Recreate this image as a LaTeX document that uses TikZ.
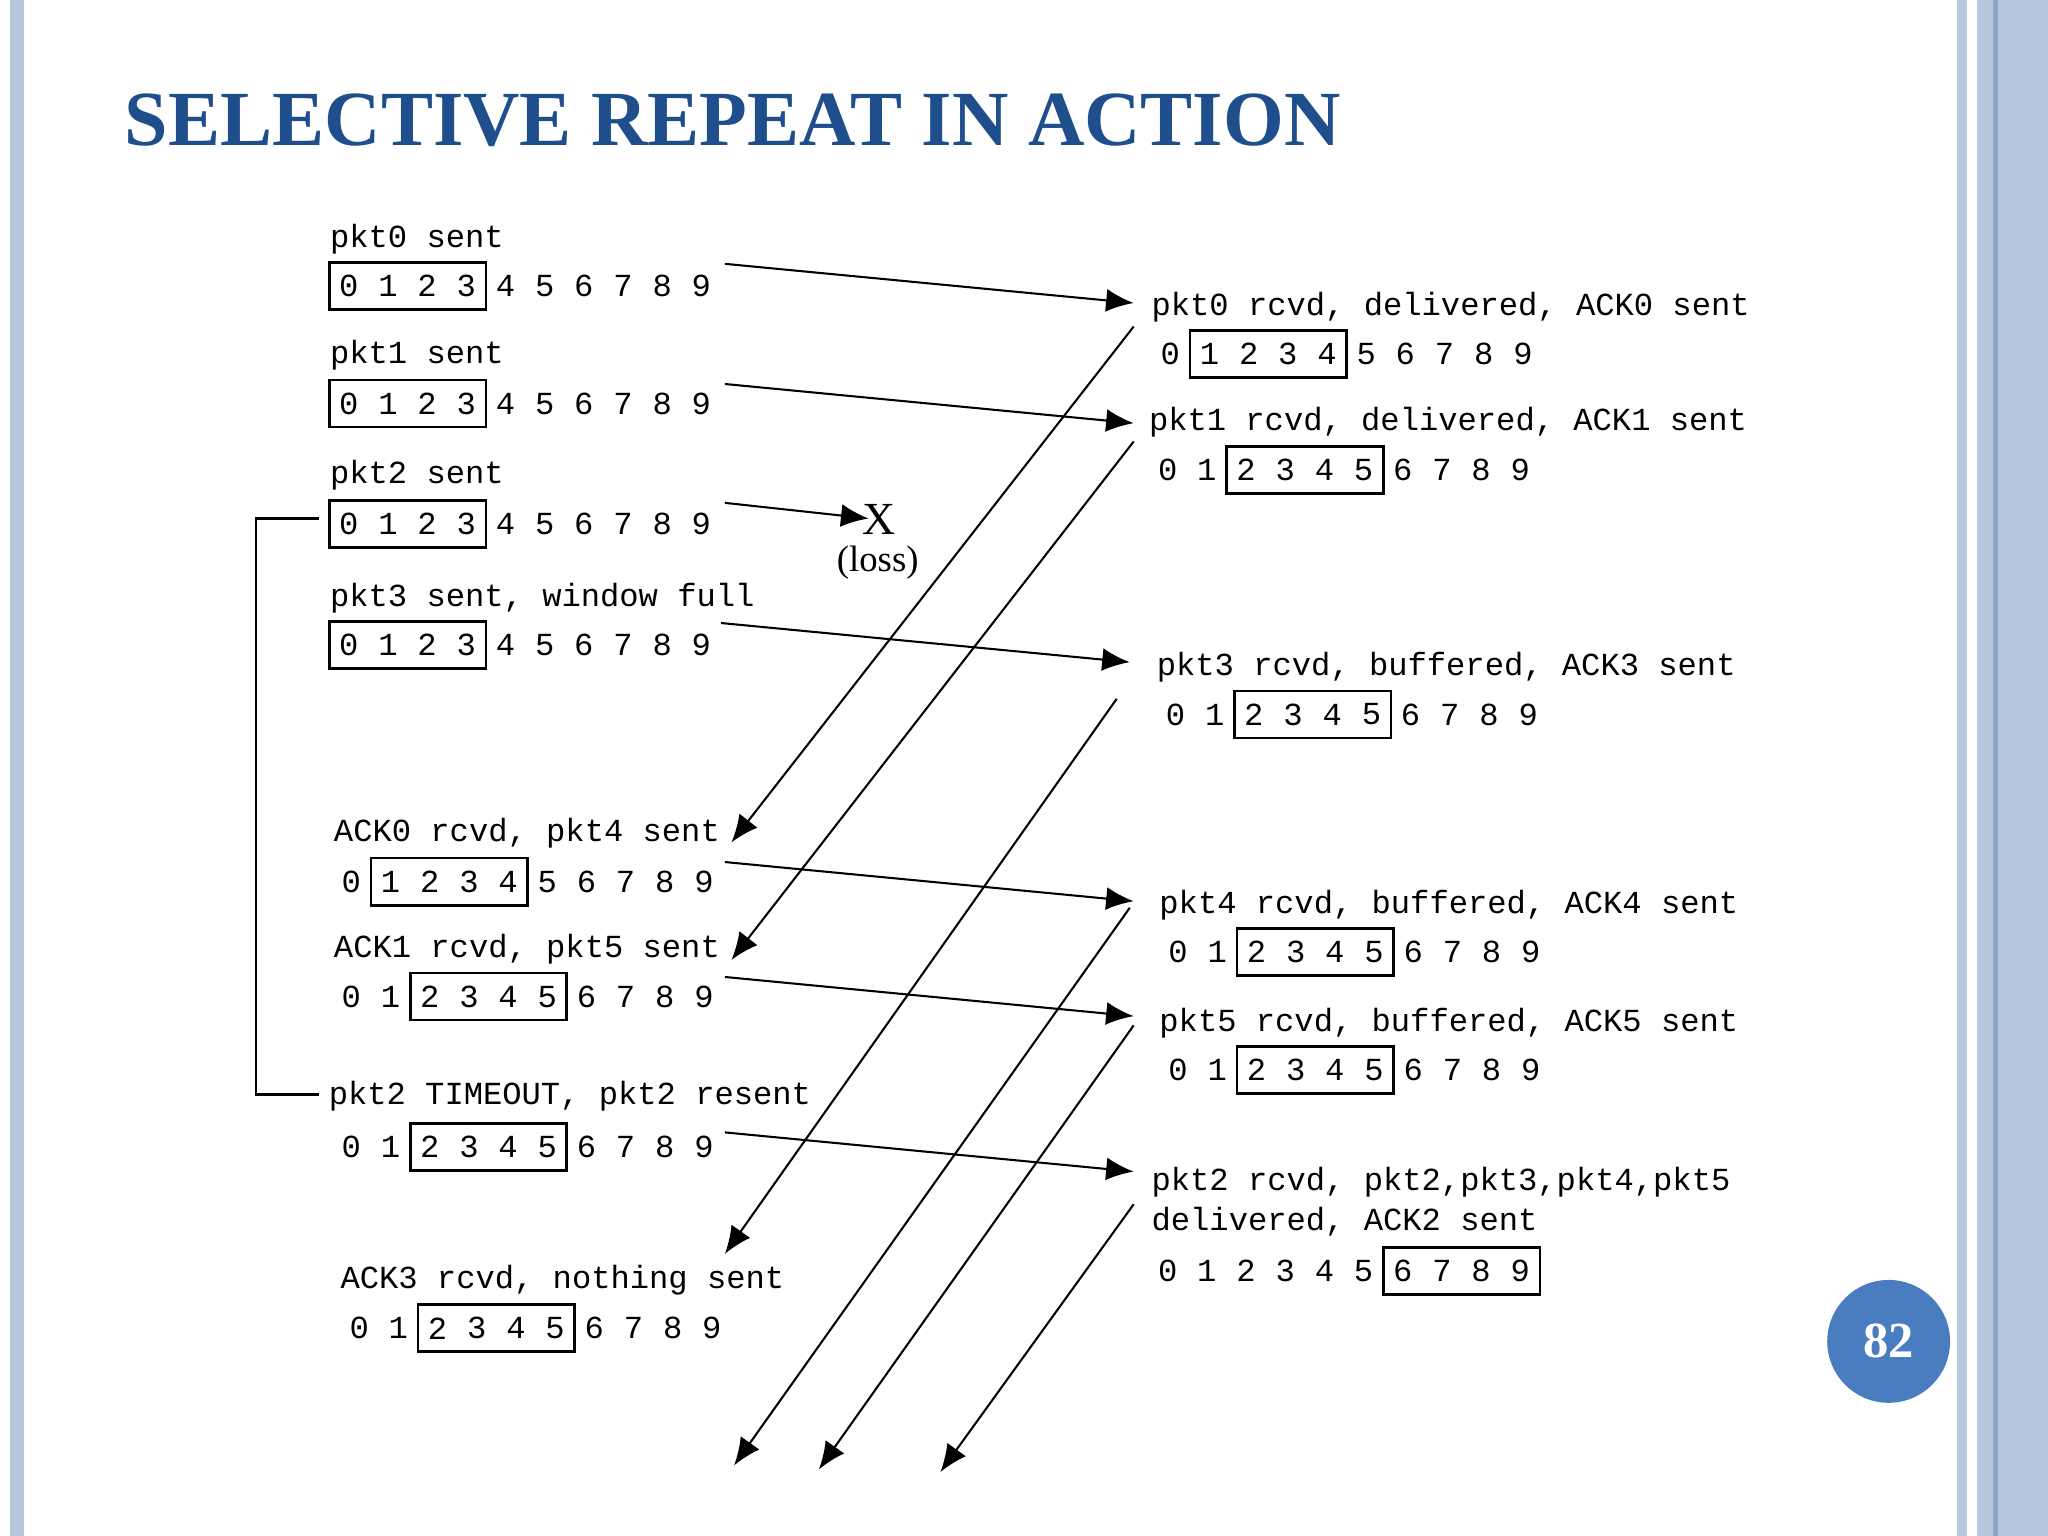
\documentclass[tikz,border=0pt]{standalone}
\usepackage{fontspec}
\setmainfont{Liberation Serif}
\newfontfamily\mono{Liberation Mono}
\usetikzlibrary{arrows.meta}
\definecolor{ttl}{HTML}{1F4E8C}
\definecolor{bar}{HTML}{B8C6DE}
\definecolor{bard}{HTML}{8FA6CC}
\definecolor{badge}{HTML}{4A7CC0}
\newcommand{\seqrow}[5]{% x0, y, box start, box end, name
  \foreach \i in {0,...,9}{\node[dig] (#5-\i) at ({#1+30*\i},#2) {\i};}
  \draw[box] ({#1+30*#3-15},{#2-18}) rectangle ({#1+30*#4+15},{#2+18});}
\begin{document}
\begin{tikzpicture}[x=0.01cm,y=-0.01cm,
  lbl/.style={anchor=west,inner sep=0pt,font=\mono\fontsize{7}{8}\selectfont},
  dig/.style={inner sep=0pt,font=\mono\fontsize{7}{8}\selectfont},
  box/.style={line width=0.6pt},
  msg/.style={-{Latex[length=6pt,width=5pt]},line width=0.45pt}]
\useasboundingbox (0,0) rectangle (1568,1176);
\fill[white] (0,0) rectangle (1568,1176);
\fill[bar] (8,0) rectangle (18,1176);
\fill[bar] (1498,0) rectangle (1506,1176);
\fill[bar] (1514,0) rectangle (1568,1176);
\fill[bard] (1526,0) rectangle (1530,1176);
\node[anchor=west,inner sep=0pt,text=ttl,font=\bfseries\fontsize{17}{20}\selectfont] (title) at (95,92) {SELECTIVE REPEAT IN ACTION};
% sender
\node[lbl] (s0) at (252,183) {pkt0 sent}; \seqrow{267}{219}{0}{3}{a}
\node[lbl] (s1) at (252,272) {pkt1 sent}; \seqrow{267}{309}{0}{3}{b}
\node[lbl] (s2) at (252,364) {pkt2 sent}; \seqrow{267}{401}{0}{3}{c}
\node[lbl] (s3) at (252,458) {pkt3 sent, window full}; \seqrow{267}{494}{0}{3}{d}
\node[lbl] (s4) at (255,638) {ACK0 rcvd, pkt4 sent}; \seqrow{269}{675}{1}{4}{e}
\node[lbl] (s5) at (255,727) {ACK1 rcvd, pkt5 sent}; \seqrow{269}{763}{2}{5}{f}
\node[lbl] (s6) at (251,839) {pkt2 TIMEOUT, pkt2 resent}; \seqrow{269}{878}{2}{5}{g}
\node[lbl] (s7) at (260,980) {ACK3 rcvd, nothing sent}; \seqrow{275}{1017}{2}{5}{h}
% receiver
\node[lbl] (r0) at (881,235) {pkt0 rcvd, delivered, ACK0 sent}; \seqrow{896}{271}{1}{4}{p}
\node[lbl] (r1) at (879,323) {pkt1 rcvd, delivered, ACK1 sent}; \seqrow{894}{360}{2}{5}{q}
\node[lbl] (r3) at (885,511) {pkt3 rcvd, buffered, ACK3 sent}; \seqrow{900}{547}{2}{5}{r}
\node[lbl] (r4) at (887,693) {pkt4 rcvd, buffered, ACK4 sent}; \seqrow{902}{729}{2}{5}{s}
\node[lbl] (r5) at (887,783) {pkt5 rcvd, buffered, ACK5 sent}; \seqrow{902}{819}{2}{5}{t}
\node[lbl] (r2) at (881,905) {pkt2 rcvd, pkt2,pkt3,pkt4,pkt5};
\node[lbl] (r2b) at (881,935) {delivered, ACK2 sent}; \seqrow{894}{973}{6}{9}{u}
% loss
\node[inner sep=0pt,font=\fontsize{10}{10}\selectfont] (x) at (673,398) {X};
\node[inner sep=0pt,font=\fontsize{8}{10}\selectfont] (loss) at (672,431) {(loss)};
% coordinates
\foreach \n/\x/\y in {d0/555/202,e0/868/232,d1/555/294,e1/868/324,d2/555/385,e2/665/397,
  d3/552/477,e3/865/507,d4/555/660,e4/868/690,d5/555/748,e5/868/778,d6/555/867,e6/868/897,
  a0/868/250,b0/560/645,a1/868/338,b1/560/735,a3/855/535,b3/555/960,
  a4/865/695,b4/562/1122,a5/868/785,b5/627/1125,a2/868/922,b2/720/1127,
  t0/244/397,t1/196/397,t2/196/838,t3/244/838}{\coordinate (\n) at (\x,\y);}
\foreach \i in {0,1,2,3,4,5,6}{\draw[msg] (d\i) -- (e\i);}
\foreach \i in {0,1,3,4,5,2}{\draw[msg] (a\i) -- (b\i);}
\draw[line width=0.6pt] (t0) -- (t1) -- (t2) -- (t3);
% page number
\node[circle,fill=badge,minimum size=0.94cm,inner sep=0pt,
  text=white,font=\bfseries\fontsize{11}{12}\selectfont] (pg) at (1446,1027) {82};
\end{tikzpicture}
\end{document}
